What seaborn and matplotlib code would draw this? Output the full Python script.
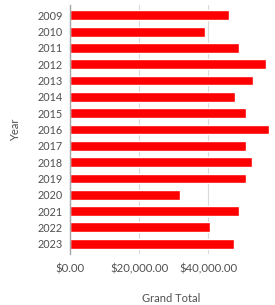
import matplotlib
matplotlib.use("Agg")
import matplotlib.pyplot as plt
import seaborn as sns
import pandas as pd
from matplotlib.ticker import FuncFormatter

# values
years = ["2009", "2010", "2011", "2012", "2013", "2014", "2015", "2016",
         "2017", "2018", "2019", "2020", "2021", "2022", "2023"]
grand_total = [46000, 39200, 48900, 56600, 53000, 47800, 51000, 57600,
               51000, 52800, 51000, 31900, 48900, 40500, 47500]
x_ticks = [0, 20000, 40000]

df = pd.DataFrame({"Year": years, "Grand Total": grand_total})

sns.set_style("white")
plt.rcParams['font.family'] = ['Lato', 'DejaVu Sans']
text_color = "#505050"

fig = plt.figure(figsize=(2.75, 3.05), dpi=100)
ax = fig.add_axes([0.2545, 0.167, 0.735, 0.817])

sns.barplot(data=df, x="Grand Total", y="Year", orient="h",
            color="#FF0000", saturation=1, width=0.6, ax=ax)

ax.set_xlim(0, 58500)
ax.set_ylim(len(years) - 1 + 0.64, -0.64)
ax.set_xticks(x_ticks)
ax.xaxis.set_major_formatter(FuncFormatter(lambda v, p: f"${v:,.2f}"))
ax.grid(axis="x", color="#D9D9D9", linewidth=0.8)
ax.set_axisbelow(True)

for side in ["top", "right", "bottom"]:
    ax.spines[side].set_visible(False)
ax.spines["left"].set_color("#A6A6A6")
ax.spines["left"].set_linewidth(1)

ax.tick_params(axis="y", length=0, labelsize=7.8, colors=text_color, pad=5)
ax.tick_params(axis="x", length=0, labelsize=8.2, colors=text_color, pad=7)

ax.set_xlabel("Grand Total", fontsize=8, color=text_color, labelpad=13)
ax.set_ylabel("Year", fontsize=8, color=text_color, labelpad=12)

fig.savefig("out.png", dpi=100)
